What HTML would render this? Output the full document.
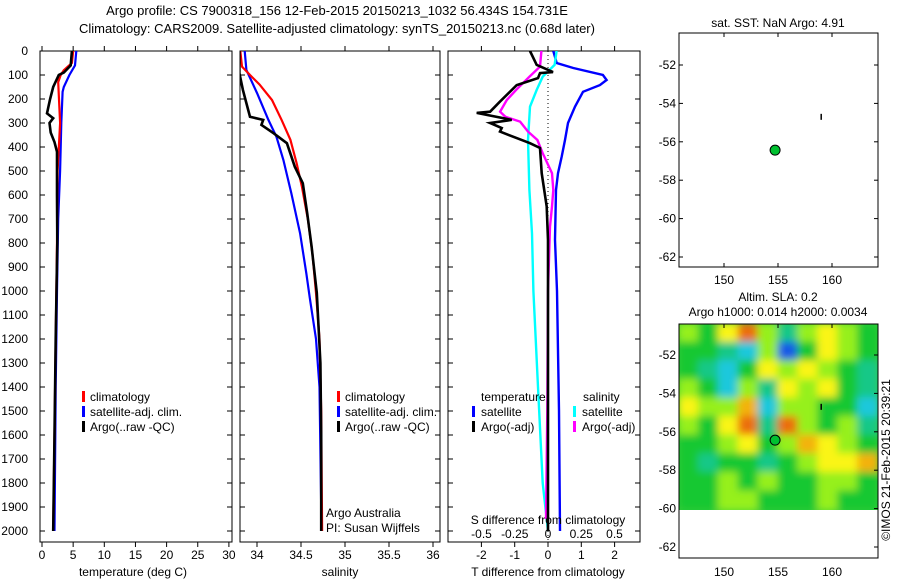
<!DOCTYPE html>
<html><head><meta charset="utf-8"><style>
body{margin:0;background:#fff}
svg{font-family:"Liberation Sans",sans-serif;font-size:12px}
</style></head><body>
<svg id="s" width="900" height="580" viewBox="0 0 900 580">
<defs>
<clipPath id="c1"><rect x="40" y="51" width="192" height="491"/></clipPath>
<clipPath id="c2"><rect x="240" y="51" width="200" height="491"/></clipPath>
<clipPath id="c3"><rect x="448" y="51" width="192" height="491"/></clipPath>
<clipPath id="cm"><rect x="679" y="324" width="199" height="186"/></clipPath>
<filter id="bl" x="-5%" y="-5%" width="110%" height="110%"><feGaussianBlur stdDeviation="4"/></filter>
</defs>
<text x="337" y="15" text-anchor="middle" font-size="13">Argo profile: CS 7900318_156 12-Feb-2015 20150213_1032 56.434S 154.731E</text>
<text x="337" y="33" text-anchor="middle" font-size="13">Climatology: CARS2009. Satellite-adjusted climatology: synTS_20150213.nc (0.68d later)</text>
<g id="g"></g>
</svg>
<script>
// ---- data (depth in m) ----
const tClimD=[0,50,80,100,130,300,500,800,1200,1600,2000];
const tClimV=[5.0,4.8,3.5,3.0,2.6,2.9,2.5,2.4,2.2,2.0,1.8];
const tSatD=[0,60,100,150,170,300,400,500,700,1000,1400,2000];
const tSatV=[5.5,5.3,4.4,3.5,3.3,3.1,3.0,2.9,2.6,2.4,2.2,2.0];
const tArgoD=[0,60,90,100,150,200,260,280,300,340,380,420,600,800,1200,1600,2000];
const tArgoV=[4.8,4.6,3.5,2.7,1.8,1.3,0.8,1.8,1.2,1.4,2.0,2.4,2.4,2.45,2.2,2.0,1.8];
const sClimD=[0,65,100,140,204,287,370,467,565,704,843,1008,1200,1500,2000];
const sClimV=[33.81,33.83,33.92,34.03,34.17,34.28,34.38,34.45,34.51,34.58,34.63,34.67,34.71,34.73,34.74];
const sSatD=[0,79,175,287,357,454,592,760,926,1029,1200,1400,1900,2000];
const sSatV=[33.86,33.88,34.0,34.13,34.22,34.30,34.39,34.49,34.56,34.60,34.67,34.71,34.73,34.73];
const sArgoD=[0,92,162,246,274,287,308,343,384,482,551,676,815,1008,1300,1600,2000];
const sArgoV=[33.8,33.8,33.84,33.9,33.92,34.07,34.05,34.19,34.34,34.43,34.52,34.57,34.62,34.68,34.72,34.73,34.73];
const dTSatD=[0,50,71,100,121,142,170,232,300,371,440,509,579,787,1000,1500,2000];
const dTSatV=[0.16,0.26,0.76,1.65,1.76,1.56,1.05,0.81,0.6,0.51,0.41,0.3,0.24,0.21,0.27,0.33,0.36];
const dTArgoD=[0,58,88,92,113,142,211,253,258,287,300,321,336,363,384,404,509,648,787,1200,2000];
const dTArgoV=[-0.54,-0.34,0.15,-0.24,-0.3,-0.94,-1.44,-1.74,-2.14,-1.09,-1.74,-1.39,-1.44,-0.94,-0.54,-0.24,-0.19,-0.04,0,0,0];
const dSArgoD=[0,65,107,162,204,253,274,294,336,371,426,509,579,648,732,1000,1500,1950];
const dSArgoV=[-0.05,-0.06,-0.14,-0.24,-0.31,-0.36,-0.32,-0.21,-0.15,-0.08,-0.04,0.03,0.04,0.03,0.015,0.0,-0.005,-0.015];
const dSSatD=[0,58,107,162,232,371,579,760,1000,1400,1800,2000];
const dSSatV=[0.065,0.05,-0.04,-0.085,-0.135,-0.15,-0.14,-0.12,-0.11,-0.075,-0.04,0];
const depthTicks=[0,100,200,300,400,500,600,700,800,900,1000,1100,1200,1300,1400,1500,1600,1700,1800,1900,2000];
const tTicks=[0,5,10,15,20,25,30];
const sTicks=[34,34.5,35,35.5,36];
const dTTicks=[-2,-1,0,1,2];
const dSTicks=[-0.5,-0.25,0,0.25,0.5];
const lonTicks=[150,155,160];
const latTicks=[-52,-54,-56,-58,-60,-62];
const floatLon=154.731, floatLat=-56.434;
const trackLon=159, trackLat=-54.7;
const slaGrid=[
[0.5,0,1,2,0.5,-0.5,0.5,1,0.5,0],
[0,0,-0.5,-1,0.5,-2,0,1,0.5,0],
[0,-0.5,-1,0,1,0.5,1,0.5,0,-0.5],
[0.5,0,-1,0.5,-0.5,1,0.5,1,0,-0.5],
[1,0.5,0.5,1.5,-1,0.5,0.5,0,0,-1],
[0.5,0,1,2,-0.5,2,0.5,0,0.5,-0.5],
[0,0,0.5,1,0,0.5,1.5,1,0.5,0],
[0,-0.5,0,0,-0.5,0,0.5,1,1,1.5],
[0,0,0.5,0,0.5,0,0,0.5,0.5,0],
[0,0,0.5,0.5,0,0,0,0.5,0,0]];

// ---- scales ----
const yD=d=>51+d*0.24;
const xT=t=>42+t*6.23;
const xS=s=>257+(s-34)*88;
const xdT=v=>548+v*33.3;
const xdS=v=>548+v*133;
const mX=lon=>778+(lon-155)*10.8;
const mY1=lat=>65+(-52-lat)*19.2;
const mY2=lat=>355+(-52-lat)*19.2;

const NS="http://www.w3.org/2000/svg";
const G=document.getElementById('g');
function el(tag,attrs,parent){const e=document.createElementNS(NS,tag);for(const k in attrs)e.setAttribute(k,attrs[k]);(parent||G).appendChild(e);return e;}
function txt(x,y,s,anchor,parent){const e=el('text',{x:x,y:y,'text-anchor':anchor||'middle'},parent);e.textContent=s;return e;}
function line(xs,ds,fx,color,w,clip,name){
  const pts=xs.map((v,i)=>fx(v).toFixed(1)+','+yD(ds[i]).toFixed(1)).join(' ');
  const p=el('polyline',{points:pts,fill:'none',stroke:color,'stroke-width':w,'clip-path':'url(#'+clip+')'});
  
  
}
function box(x,y,w,h,name){
  const r=el('rect',{x:x,y:y,width:w,height:h,fill:'none',stroke:'#000','stroke-width':1});
  
  
}
function yTicks(x0,x1){depthTicks.forEach(d=>{const y=yD(d);el('line',{x1:x0,y1:y,x2:x0+5,y2:y,stroke:'#000'});el('line',{x1:x1,y1:y,x2:x1-5,y2:y,stroke:'#000'});});}
function xTicks(vals,f,y0,y1){vals.forEach(v=>{const x=f(v);el('line',{x1:x,y1:y0,x2:x,y2:y0+5,stroke:'#000'});el('line',{x1:x,y1:y1,x2:x,y2:y1-5,stroke:'#000'});});}
function legBar(x,y,color){el('rect',{x:x,y:y-10,width:3,height:11,fill:color});}

// ---- panel 1 temperature ----
box(40,51,192,491,'temperature-panel');
yTicks(40,232);xTicks(tTicks,xT,542,51);
depthTicks.forEach(d=>{const t=txt(28,yD(d)+4,String(d),'end');});
tTicks.forEach(v=>txt(xT(v),559,String(v)));
txt(133,576,'temperature (deg C)');
line(tSatV,tSatD,xT,'#0000ff',2.2,'c1','temp-satellite-line');
line(tClimV,tClimD,xT,'#ff0000',2.2,'c1','temp-climatology-line');
line(tArgoV,tArgoD,xT,'#000',2.6,'c1','temp-argo-line');
legBar(82,401,'#ff0000');txt(90,401,'climatology','start');
legBar(82,416,'#0000ff');txt(90,416,'satellite-adj. clim.','start');
legBar(82,431,'#000');txt(90,431,'Argo(..raw -QC)','start');

// ---- panel 2 salinity ----
box(240,51,200,491,'salinity-panel');
yTicks(240,440);xTicks(sTicks,xS,542,51);
sTicks.forEach(v=>txt(xS(v),559,String(v)));
txt(340,576,'salinity');
line(sSatV,sSatD,xS,'#0000ff',2.2,'c2','sal-satellite-line');
line(sClimV,sClimD,xS,'#ff0000',2.2,'c2','sal-climatology-line');
line(sArgoV,sArgoD,xS,'#000',2.6,'c2','sal-argo-line');
legBar(337,401,'#ff0000');txt(345,401,'climatology','start');
legBar(337,416,'#0000ff');txt(345,416,'satellite-adj. clim.','start');
legBar(337,431,'#000');txt(345,431,'Argo(..raw -QC)','start');
txt(326,517,'Argo Australia','start');
txt(326,532,'PI: Susan Wijffels','start');

// ---- panel 3 differences ----
box(448,51,192,491,'difference-panel');
yTicks(448,640);xTicks(dTTicks,xdT,542,51);
el('line',{x1:548,y1:51,x2:548,y2:542,stroke:'#000','stroke-dasharray':'1,3'});
line(dTSatV,dTSatD,xdT,'#0000ff',2.4,'c3','dT-satellite-line');
line(dSSatV,dSSatD,xdS,'#00ffff',2.4,'c3','dS-satellite-line');
line(dSArgoV,dSArgoD,xdS,'#ff00ff',2.4,'c3','dS-argo-line');
line(dTArgoV,dTArgoD,xdT,'#000',2.6,'c3','dT-argo-line');
txt(548,524,'S difference from climatology');
dSTicks.forEach(v=>txt(xdS(v),538,String(v)));
dTTicks.forEach(v=>txt(xdT(v),559,String(v)));
txt(548,576,'T difference from climatology');
txt(481,401,'temperature','start');txt(583,401,'salinity','start');
legBar(472,416,'#0000ff');txt(481,416,'satellite','start');
legBar(472,431,'#000');txt(481,431,'Argo(-adj)','start');
legBar(573,416,'#00ffff');txt(582,416,'satellite','start');
legBar(573,431,'#ff00ff');txt(582,431,'Argo(-adj)','start');

// ---- map 1 ----
box(679,33,199,234,'sst-map');
txt(778,27,'sat. SST: NaN Argo: 4.91');
latTicks.forEach(v=>{const y=mY1(v);txt(676,y+4,String(v),'end');el('line',{x1:679,y1:y,x2:683,y2:y,stroke:'#000'});el('line',{x1:878,y1:y,x2:874,y2:y,stroke:'#000'});});
lonTicks.forEach(v=>{const x=mX(v);txt(x,284,String(v));el('line',{x1:x,y1:267,x2:x,y2:263,stroke:'#000'});el('line',{x1:x,y1:33,x2:x,y2:37,stroke:'#000'});});
el('line',{x1:mX(trackLon),y1:mY1(trackLat)-3,x2:mX(trackLon),y2:mY1(trackLat)+3,stroke:'#000','stroke-width':1.5});
const f1=el('circle',{cx:mX(floatLon),cy:mY1(floatLat),r:5,fill:'#00c030',stroke:'#000'});



// ---- map 2 (SLA) ----
txt(778,301,'Altim. SLA: 0.2');
txt(778,316,'Argo h1000: 0.014 h2000: 0.0034');
function slaColor(v){
  const stops=[[-2,[20,90,230]],[-1,[30,200,220]],[0,[20,200,50]],[0.5,[150,240,30]],[1,[250,245,20]],[2,[235,110,10]]];
  if(v<=stops[0][0])return 'rgb('+stops[0][1]+')';
  for(let i=1;i<stops.length;i++){if(v<=stops[i][0]){const a=stops[i-1],b=stops[i],f=(v-a[0])/(b[0]-a[0]);return 'rgb('+a[1].map((c,j)=>Math.round(c+(b[1][j]-c)*f)).join(',')+')';}}
  return 'rgb('+stops[stops.length-1][1]+')';
}
const hm=el('g',{'clip-path':'url(#cm)'});


el('rect',{x:679,y:324,width:199,height:186,fill:'rgb(60,205,60)'},hm);
const hb=el('g',{filter:'url(#bl)'},hm);
const cw=199/10,ch=186/10;
slaGrid.forEach((row,r)=>row.forEach((v,c)=>{el('rect',{x:679+c*cw-1,y:324+r*ch-1,width:cw+2,height:ch+2,fill:slaColor(v)},hb);}));
box(679,324,199,234,'sla-map');
latTicks.forEach(v=>{const y=mY2(v);txt(676,y+4,String(v),'end');el('line',{x1:878,y1:y,x2:874,y2:y,stroke:'#000'});});
lonTicks.forEach(v=>{const x=mX(v);txt(x,576,String(v));el('line',{x1:x,y1:324,x2:x,y2:328,stroke:'#000'});});
el('line',{x1:mX(trackLon),y1:mY2(trackLat)-3,x2:mX(trackLon),y2:mY2(trackLat)+3,stroke:'#000','stroke-width':1.5});
const f2=el('circle',{cx:mX(floatLon),cy:mY2(floatLat),r:5,fill:'#00c030',stroke:'#000'});


const cr=el('text',{x:0,y:0,transform:'translate(890,460) rotate(-90)','text-anchor':'middle'});
cr.textContent='©IMOS 21-Feb-2015 20:39:21';


</script>
</body></html>
